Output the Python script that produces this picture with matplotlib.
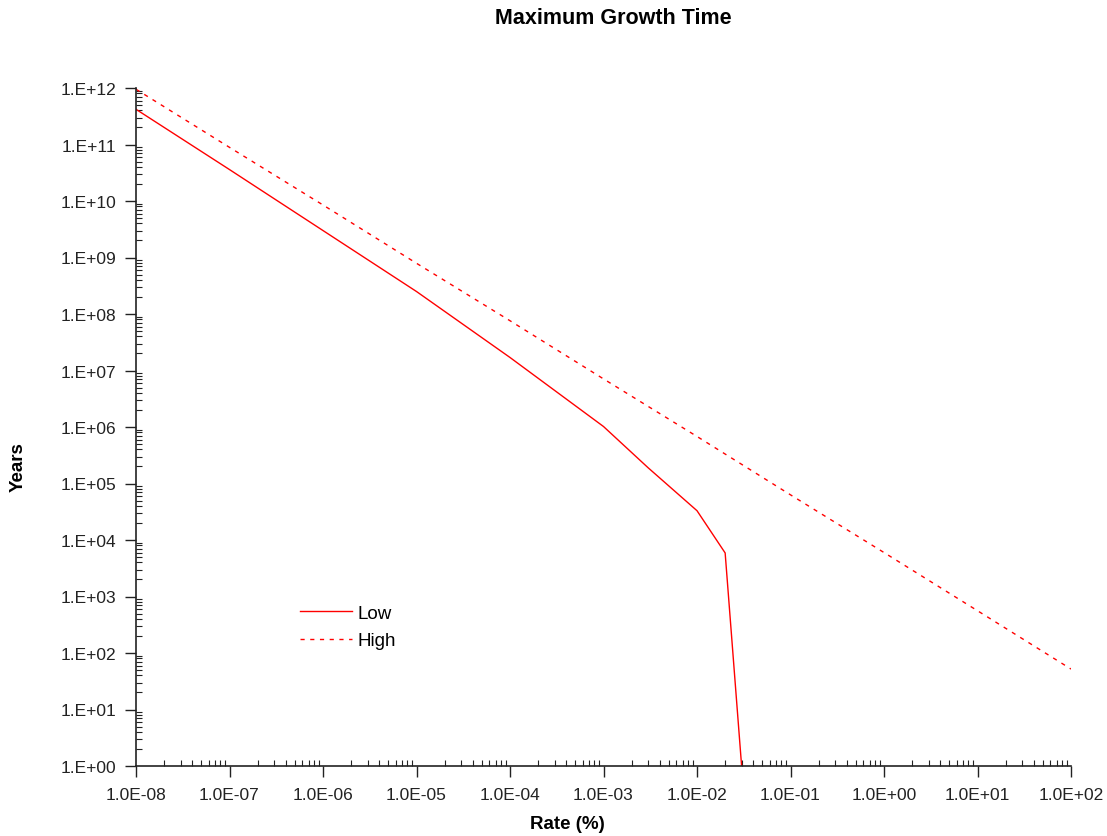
import numpy as np
import matplotlib.pyplot as plt
from matplotlib.ticker import LogLocator, FuncFormatter, NullFormatter

plt.rcParams['font.family'] = ['Liberation Sans', 'DejaVu Sans']

# Rate (%) and years
rate_low = [1e-8, 1e-7, 1e-6, 1e-5, 1e-4, 1e-3, 3e-3, 1e-2, 2e-2, 3e-2]
years_low = [4.2e11, 3.6e10, 3.0e9, 2.5e8, 1.7e7, 1.02e6, 1.9e5, 3.3e4, 5.9e3, 1.0]

rate_high = [1e-8, 1e-7, 1e-6, 1e-5, 1e-4, 1e-3, 1e-2, 1e-1, 1e0, 1e1, 1e2]
years_high = [9.5e11, 8.9e10, 8.5e9, 7.9e8, 7.6e7, 7.1e6, 6.8e5, 6.3e4, 6.0e3, 5.6e2, 5.2e1]

fig = plt.figure(figsize=(11.07, 8.37), dpi=100)
ax = fig.add_axes([136/1107, 1-767/837, (1071-136)/1107, (767-89)/837])

ax.plot(rate_low, years_low, color='#ff0000', lw=1.0, label='Low')
ax.plot(rate_high, years_high, color='#ff0000', lw=1.0, ls=(0, (3, 4)), label='High')

ax.set_xscale('log')
ax.set_yscale('log')
ax.set_xlim(1e-8, 1e2)
ax.set_ylim(1e0, 1e12)

ax.xaxis.set_major_locator(LogLocator(base=10, numticks=20))
ax.yaxis.set_major_locator(LogLocator(base=10, numticks=20))
ax.xaxis.set_minor_locator(LogLocator(base=10, subs=np.arange(2, 10), numticks=200))
ax.yaxis.set_minor_locator(LogLocator(base=10, subs=np.arange(2, 10), numticks=200))
ax.xaxis.set_minor_formatter(NullFormatter())
ax.yaxis.set_minor_formatter(NullFormatter())


def fmt_x(v, pos):
    e = int(round(np.log10(v)))
    return '1.0E%s%02d' % ('+' if e >= 0 else '-', abs(e))


def fmt_y(v, pos):
    e = int(round(np.log10(v)))
    return '1.E%s%02d' % ('+' if e >= 0 else '-', abs(e))


ax.xaxis.set_major_formatter(FuncFormatter(fmt_x))
ax.yaxis.set_major_formatter(FuncFormatter(fmt_y))

ax.tick_params(which='major', direction='out', length=8, width=1, labelsize=12.5,
               colors='#222222', labelcolor='#222222', pad=6)
ax.tick_params(which='minor', direction='in', length=4, width=0.8, colors='#222222')
ax.tick_params(axis='x', which='major', pad=7)

for s in ['top', 'right']:
    ax.spines[s].set_visible(False)
for s in ['left', 'bottom']:
    ax.spines[s].set_color('#222222')
    ax.spines[s].set_linewidth(1.2)

fig.text(613/1107, 1-19/837, 'Maximum Growth Time', ha='center', va='center',
         fontsize=15.5, fontweight='bold')
fig.text(567/1107, 1-825/837, 'Rate (%)', ha='center', va='center',
         fontsize=13.5, fontweight='bold')
fig.text(18/1107, 1-467/837, 'Years', ha='center', va='center', rotation=90,
         fontsize=13.5, fontweight='bold')

ax.legend(loc='upper left', bbox_to_anchor=(283/1107, 1-589/837),
          bbox_transform=fig.transFigure, frameon=False, fontsize=13.5,
          handlelength=2.8, handletextpad=0.25, labelspacing=0.55)

fig.savefig('out.png', dpi=100)
